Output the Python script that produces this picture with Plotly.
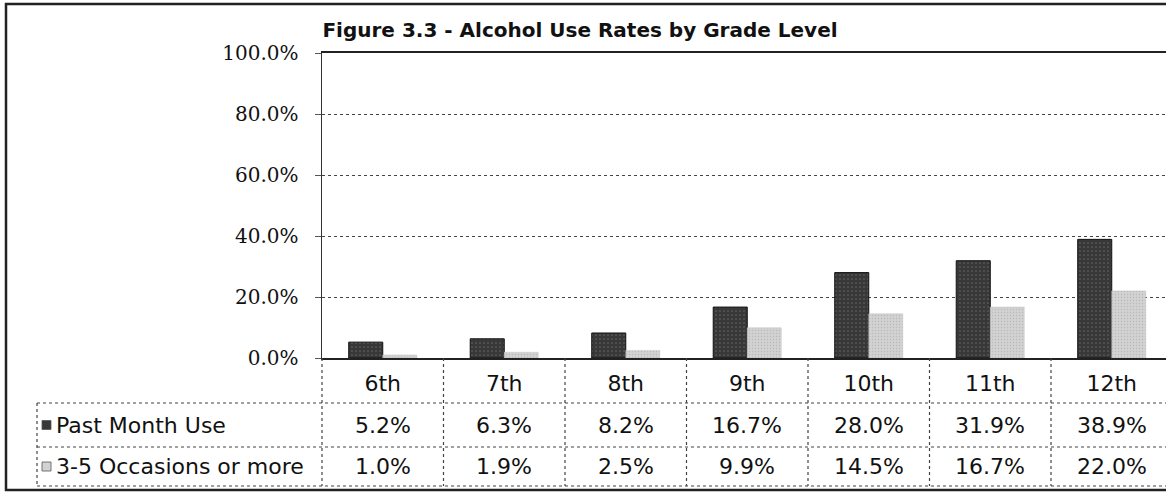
import plotly.graph_objects as go

# ---- data ----
grades = ["6th", "7th", "8th", "9th", "10th", "11th", "12th"]
past_month_use = [5.2, 6.3, 8.2, 16.7, 28.0, 31.9, 38.9]
occasions_3_5 = [1.0, 1.9, 2.5, 9.9, 14.5, 16.7, 22.0]
series_names = ["Past Month Use", "3-5 Occasions or more"]
y_ticks = [0, 20, 40, 60, 80, 100]
y_tick_labels = ["0.0%", "20.0%", "40.0%", "60.0%", "80.0%", "100.0%"]
title_text = "Figure 3.3 - Alcohol Use Rates by Grade Level"

# ---- layout geometry (pixels) ----
W, H = 1166, 496
L, R, T, B = 322, 0, 53, 138
plot_w = W - L - R
plot_h = H - T - B
col_w = 121.5
x_max = -0.5 + plot_w / col_w

def py(ypix):          # pixel y -> paper y
    return (H - B - ypix) / plot_h

def px(xpix):          # pixel x -> paper x
    return (xpix - L) / plot_w

dark = "#383838"
light = "#d2d2d2"
sans = "DejaVu Sans, Arial, sans-serif"
serif = "DejaVu Serif, Times New Roman, serif"

fig = go.Figure()
fig.add_trace(go.Bar(
    x=grades, y=past_month_use, name=series_names[0],
    marker=dict(color=dark, line=dict(color="#111", width=1),
                pattern=dict(shape=".", fgcolor="#8a8a8a", size=4, solidity=0.15)),
))
fig.add_trace(go.Bar(
    x=grades, y=occasions_3_5, name=series_names[1],
    marker=dict(color=light, line=dict(color="#c4c4c4", width=0.5),
                pattern=dict(shape=".", fgcolor="#a0a0a0", size=3, solidity=0.2)),
))

fig.update_layout(
    width=W, height=H,
    margin=dict(l=L, r=R, t=T, b=B, pad=0),
    paper_bgcolor="white", plot_bgcolor="white",
    barmode="group", bargap=0.44, bargroupgap=0.0,
    showlegend=False,
    title=dict(text="<b>" + title_text + "</b>", x=px(580), xref="paper",
               xanchor="center", y=1 - 30 / H, yanchor="middle",
               font=dict(family=sans, size=20, color="#111")),
    hovermode=False,
)

fig.update_xaxes(
    range=[-0.5, x_max], showgrid=False, showline=True, mirror=True,
    linecolor="#222", linewidth=2, ticks="", ticklabelstandoff=5,
    tickfont=dict(family=sans, size=22, color="#111"),
)
fig.update_yaxes(
    range=[0, 100], tickmode="array", tickvals=y_ticks, ticktext=y_tick_labels,
    showgrid=True, gridcolor="#444", gridwidth=1, griddash="dot",
    zeroline=False, showline=True, linecolor="#333", linewidth=1.5,
    ticks="outside", ticklen=6, tickcolor="#555", ticklabelstandoff=12,
    tickfont=dict(family=serif, size=20, color="#111"),
)

line_style = dict(color="#444", width=1.2, dash="dot")

# outer frame
fig.add_shape(type="rect", xref="paper", yref="paper",
              x0=px(6), x1=px(1175), y0=py(490), y1=py(4),
              line=dict(color="#222", width=2.5), layer="below")

# table horizontal lines
for yp in (403, 447, 486):
    fig.add_shape(type="line", xref="paper", yref="paper",
                  x0=px(37), x1=1.0, y0=py(yp), y1=py(yp), line=line_style)
# table left border (legend column) and plot-column border
fig.add_shape(type="line", xref="paper", yref="paper",
              x0=px(37), x1=px(37), y0=py(403), y1=py(486), line=line_style)
fig.add_shape(type="line", xref="paper", yref="paper",
              x0=0, x1=0, y0=0, y1=py(486), line=line_style)
# column dividers
for i in range(len(grades)):
    fig.add_shape(type="line", xref="x", yref="paper",
                  x0=i + 0.5, x1=i + 0.5, y0=0, y1=py(486), line=line_style)

# legend keys + series names
row_centres = [py(425), py(466.5)]
for name, yc, col in zip(series_names, row_centres, [dark, light]):
    fig.add_shape(type="rect", xref="paper", yref="paper",
                  x0=px(42), x1=px(51), y0=yc - 4.5 / plot_h, y1=yc + 4.5 / plot_h,
                  fillcolor=col, line=dict(color="#555", width=0.8))
    fig.add_annotation(text=name, xref="paper", yref="paper",
                       x=px(54), y=yc, xanchor="left", yanchor="middle",
                       showarrow=False, font=dict(family=sans, size=22, color="#111"))

# table values
for vals, yc in zip([past_month_use, occasions_3_5], row_centres):
    for g, v in zip(grades, vals):
        fig.add_annotation(text=f"{v:.1f}%", xref="x", yref="paper",
                           x=g, y=yc, xanchor="center", yanchor="middle",
                           showarrow=False, font=dict(family=sans, size=22, color="#111"))

fig.write_html("out.html",
               config={"displayModeBar": False, "staticPlot": True},
               post_script="document.body.style.margin='0';document.body.style.overflow='hidden';")
